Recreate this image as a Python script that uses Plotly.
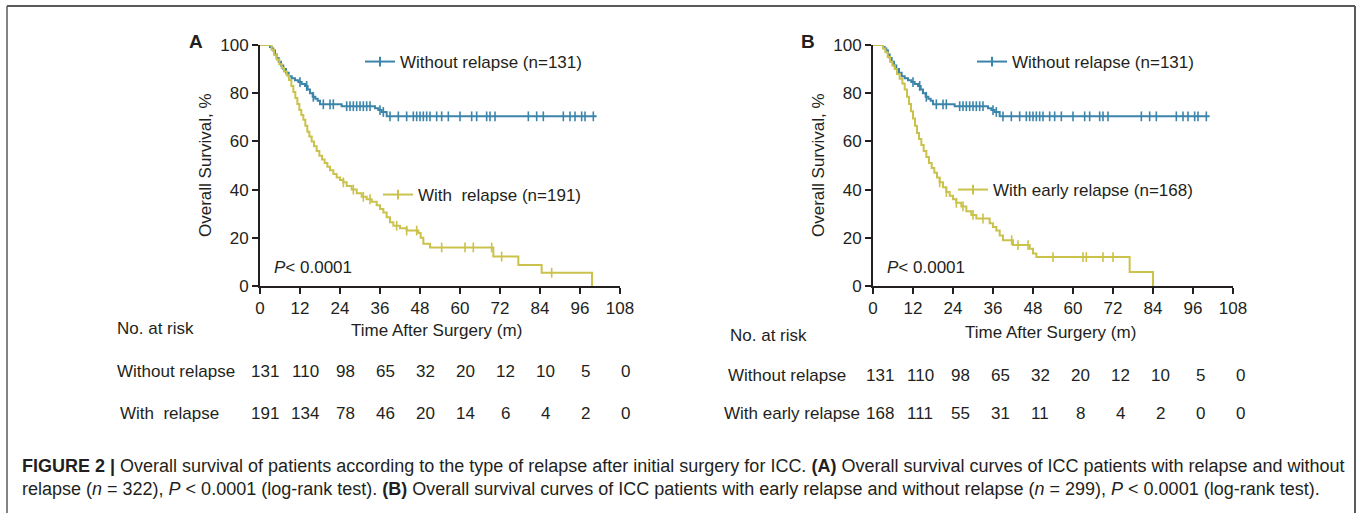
import numpy as np
import plotly.graph_objects as go

W, H = 1357, 513
def px(x): return x / W
def py(y): return 1 - y / H

BLUE = '#3b84aa'
YEL = '#cbc24c'
INK = '#231f20'
FONT = 'Liberation Sans, Arial, sans-serif'
FS = 17

# ---------------- data ----------------
month_ticks = [0, 12, 24, 36, 48, 60, 72, 84, 96, 108]
surv_ticks = [0, 20, 40, 60, 80, 100]

# Without relapse (same cohort in both panels)
t_without = [0, 3, 3.5, 4, 4.5, 5, 5.6, 6.3, 7, 7.8, 8.6, 9.5, 10.5, 11.5, 12.5,
             13.5, 14.3, 15, 15.8, 16.6, 17.3, 18, 24.5, 34.5, 35.5, 36.5, 38, 101]
s_without = [100, 99.2, 98.5, 97.7, 96.1, 94.6, 93.0, 91.5, 90.0, 88.5, 87.0, 86.2, 85.4, 84.6, 83.8,
             83.0, 81.5, 80.0, 78.5, 77.7, 76.9, 75.4, 74.6, 73.8, 73.0, 72.2, 70.4, 70.4]
c_without = [12, 14, 16, 19, 21, 22, 26, 27, 28, 29, 30, 31, 32, 33, 36, 37, 39, 41.5, 44, 46, 47,
             48, 49, 50, 51, 53, 54.5, 56.5, 60, 63.5, 65, 68, 69, 70.5, 80.5, 83, 85, 91, 93,
             94.5, 96.5, 97.5, 100]

# With relapse (panel A)
t_relapse = [0, 3.5, 4.2, 5, 5.8, 6.5, 7.2, 8, 8.7, 9.4, 10, 10.6, 11.2, 11.8, 12.4, 13,
             13.6, 14.2, 14.8, 15.5, 16.2, 17, 17.8, 18.6, 19.4, 20.2, 21, 22, 23, 24, 25,
             26, 27.5, 29, 30.5, 32, 33.5, 35, 36, 37, 38, 39, 40, 42, 44, 47.5, 48.2, 49,
             51, 70, 77.5, 84.5, 99.6]
s_relapse = [100, 98, 96, 94, 92, 90.5, 89, 87.5, 85.5, 83, 80.5, 78, 75.5, 73, 71, 69,
             66.5, 64, 62, 60, 58, 56, 54, 52.5, 51, 49.5, 48, 46.5, 45, 44, 43,
             41.5, 40, 38.5, 37, 36, 35, 33.5, 32, 30.5, 28.5, 26.5, 25, 24, 23, 22, 20, 17.5,
             16, 12.2, 8.7, 5.5, 0]
c_relapse = [25, 28, 31, 33, 41, 44, 47, 54.5, 61.5, 64, 69.5, 72.5, 87.5]

# With early relapse (panel B)
t_early = [0, 3, 3.7, 4.4, 5.1, 5.8, 6.5, 7.2, 8, 8.8, 9.5, 10.2, 10.8, 11.4, 12, 12.6,
           13.2, 13.8, 14.5, 15.2, 16, 16.8, 17.6, 18.4, 19.2, 20, 21, 22, 23, 24, 25, 26.5,
           28, 29.5, 31, 35, 36, 37, 38, 39, 42, 47, 48, 49, 77, 84]
s_early = [100, 98.5, 97, 95, 93, 91.5, 90, 88, 86, 84, 81.5, 78.5, 75.5, 72.5, 69.5, 66.5,
           63.5, 61, 58.5, 56, 53.5, 51, 49, 47, 45, 43, 41, 39, 37.5, 36, 34.5, 33,
           31, 29.5, 28, 26, 24.5, 23, 21, 19, 17, 15.5, 13.5, 12, 5.8, 0]
c_early = [20, 22, 25, 27, 30, 33, 41.6, 43.5, 46.5, 54, 63, 64, 69, 72]

# numbers at risk
risk_without = [131, 110, 98, 65, 32, 20, 12, 10, 5, 0]
risk_relapse = [191, 134, 78, 46, 20, 14, 6, 4, 2, 0]
risk_early = [168, 111, 55, 31, 11, 8, 4, 2, 0, 0]

labels_a = ['Without relapse (n=131)', 'With  relapse (n=191)']
labels_b = ['Without relapse (n=131)', 'With early relapse (n=168)']


def step_at(times, surv, pts):
    times = np.asarray(times, float)
    surv = np.asarray(surv, float)
    idx = np.searchsorted(times, np.asarray(pts, float), side='right') - 1
    return surv[np.clip(idx, 0, len(surv) - 1)]


fig = go.Figure()


def add_curve(times, surv, cens, color, xa, ya):
    fig.add_trace(go.Scatter(x=times, y=surv, mode='lines', line=dict(color=color, width=2, shape='hv'),
                             xaxis=xa, yaxis=ya, showlegend=False, hoverinfo='skip', cliponaxis=False))
    fig.add_trace(go.Scatter(x=cens, y=step_at(times, surv, cens), mode='markers',
                             marker=dict(symbol='line-ns-open', size=7, color=color,
                                         line=dict(width=1.6, color=color)),
                             xaxis=xa, yaxis=ya, showlegend=False, hoverinfo='skip', cliponaxis=False))


def add_legend(name, color, legend):
    fig.add_trace(go.Scatter(x=[None], y=[None], mode='lines+markers', name=name,
                             line=dict(color=color, width=2),
                             marker=dict(symbol='line-ns-open', size=7, color=color,
                                         line=dict(width=2, color=color)),
                             legend=legend, showlegend=True))


add_curve(t_without, s_without, c_without, BLUE, 'x', 'y')
add_curve(t_relapse, s_relapse, c_relapse, YEL, 'x', 'y')
add_curve(t_without, s_without, c_without, BLUE, 'x2', 'y2')
add_curve(t_early, s_early, c_early, YEL, 'x2', 'y2')

add_legend(labels_a[0], BLUE, 'legend')
add_legend(labels_a[1], YEL, 'legend2')
add_legend(labels_b[0], BLUE, 'legend3')
add_legend(labels_b[1], YEL, 'legend4')

axis_common = dict(showline=True, linewidth=2, linecolor=INK, ticks='outside', ticklen=6,
                   tickwidth=2, tickcolor=INK, showgrid=False, zeroline=False, automargin=False,
                   tickfont=dict(family=FONT, size=FS, color=INK), fixedrange=True)

fig.update_layout(
    width=W, height=H, margin=dict(l=0, r=0, t=0, b=0, pad=0, autoexpand=False),
    paper_bgcolor='white', plot_bgcolor='rgba(0,0,0,0)',
    font=dict(family=FONT, size=FS, color=INK),
    xaxis=dict(domain=[px(260), px(620)], range=[0, 108], tickvals=month_ticks, anchor='y', **axis_common),
    yaxis=dict(domain=[py(286), py(45)], range=[0, 100], tickvals=surv_ticks, anchor='x', **axis_common),
    xaxis2=dict(domain=[px(873), px(1233)], range=[0, 108], tickvals=month_ticks, anchor='y2', **axis_common),
    yaxis2=dict(domain=[py(286), py(45)], range=[0, 100], tickvals=surv_ticks, anchor='x2', **axis_common),
)

leg_common = dict(xanchor='left', yanchor='middle', bgcolor='rgba(0,0,0,0)',
                  font=dict(family=FONT, size=FS, color=INK), borderwidth=0)
fig.update_layout(
    legend=dict(x=px(360), y=py(62), **leg_common),
    legend2=dict(x=px(378), y=py(195), **leg_common),
    legend3=dict(x=px(972), y=py(62), **leg_common),
    legend4=dict(x=px(953), y=py(190), **leg_common),
)

ann = []
def text(x, y, s, size=FS, anchor='left', **kw):
    ann.append(dict(x=px(x), y=py(y), xref='paper', yref='paper', text=s, showarrow=False,
                    xanchor=anchor, yanchor='middle', font=dict(family=FONT, size=size, color=INK), **kw))

# panel letters
text(196, 41, '<b>A</b>', size=19, anchor='center')
text(808, 41, '<b>B</b>', size=19, anchor='center')
# y titles
text(205, 165, 'Overall Survival, %', anchor='center', textangle=-90)
text(818, 165, 'Overall Survival, %', anchor='center', textangle=-90)
# P values
text(272, 267, '<i>P</i>< 0.0001')
text(885, 267, '<i>P</i>< 0.0001')
# x titles and risk headers
text(437, 330, 'Time After Surgery (m)', anchor='center')
text(1050, 332, 'Time After Surgery (m)', anchor='center')
text(115, 328, 'No. at risk')
text(728, 335, 'No. at risk')
# risk row labels
text(115, 371, 'Without relapse')
text(118, 413, 'With  relapse')
text(726, 375, 'Without relapse')
text(722, 413, 'With early relapse')

def risk_row(values, xref, y, shift):
    for t, n in zip(month_ticks, values):
        ann.append(dict(x=t, y=py(y), xref=xref, yref='paper', text=str(n), showarrow=False,
                        xanchor='center', yanchor='middle', xshift=shift,
                        font=dict(family=FONT, size=FS, color=INK)))

risk_row(risk_without, 'x', 371, 5)
risk_row(risk_relapse, 'x', 413, 5)
risk_row(risk_without, 'x2', 375, 7)
risk_row(risk_early, 'x2', 413, 7)

# caption
cap1 = ('<b>FIGURE 2 |</b> Overall survival of patients according to the type of relapse after initial '
        'surgery for ICC. <b>(A)</b> Overall survival curves of ICC patients with relapse and without')
cap2 = ('relapse (<i>n</i> = 322), <i>P</i> &lt; 0.0001 (log-rank test). <b>(B)</b> Overall survival curves '
        'of ICC patients with early relapse and without relapse (<i>n</i> = 299), <i>P</i> &lt; 0.0001 (log-rank test).')
for y, s in [(466, cap1), (489, cap2)]:
    ann.append(dict(x=px(20), y=py(y), xref='paper', yref='paper', text=s, showarrow=False,
                    xanchor='left', yanchor='middle', font=dict(family=FONT, size=18, color=INK)))

fig.update_layout(annotations=ann)

# frame (open at the bottom, like the cropped original)
frame = '#5a5a5a'
shapes = [
    dict(type='line', xref='paper', yref='paper', x0=px(7), x1=px(1355), y0=py(6), y1=py(6), line=dict(color=frame, width=2)),
    dict(type='line', xref='paper', yref='paper', x0=px(7), x1=px(7), y0=py(6), y1=0, line=dict(color=frame, width=1.5)),
    dict(type='line', xref='paper', yref='paper', x0=px(1355), x1=px(1355), y0=py(6), y1=0, line=dict(color=frame, width=2)),
]
fig.update_layout(shapes=shapes)

fig.write_html('out.html')
